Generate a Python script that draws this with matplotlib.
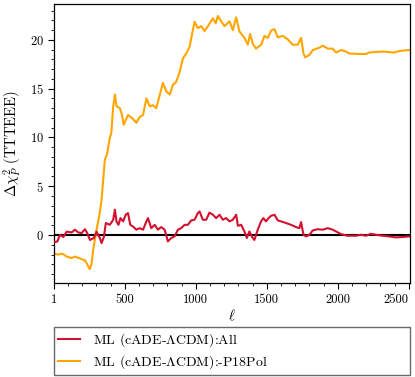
import matplotlib
matplotlib.use("Agg")
import matplotlib.pyplot as plt
from matplotlib.ticker import MultipleLocator, FixedLocator

plt.rcParams['font.family'] = 'serif'
plt.rcParams['font.serif'] = ['cmr10']
plt.rcParams['mathtext.fontset'] = 'cm'
plt.rcParams['axes.formatter.use_mathtext'] = True
plt.rcParams['axes.unicode_minus'] = False

# Orange series: ML (cADE-LCDM):-P18Pol
ell_pol = [1, 30, 60, 90, 124, 150, 184, 220, 253, 265, 277, 300, 320, 336, 359, 375,
           394, 405, 418, 430, 441, 465, 480, 492, 522, 557, 581, 604, 628, 652, 675,
           698, 721, 745, 768, 792, 816, 839, 862, 886, 909, 932, 956, 979, 991, 1014,
           1038, 1061, 1085, 1120, 1140, 1155, 1178, 1202, 1237, 1260, 1284, 1307, 1342,
           1366, 1382, 1401, 1424, 1460, 1483, 1507, 1530, 1554, 1577, 1612, 1647, 1682,
           1718, 1741, 1758, 1770, 1800, 1823, 1870, 1894, 1929, 1964, 1987, 2022, 2057,
           2081, 2150, 2198, 2220, 2315, 2397, 2432, 2498, 2508]
dchi_pol = [-1.9, -2.0, -1.9, -2.2, -2.35, -2.2, -2.4, -2.6, -3.5, -3.0, -1.5, 0.5, 2.0, 3.6, 7.7, 8.3,
            9.95, 10.5, 13.2, 14.4, 13.2, 13.0, 12.3, 11.3, 12.3, 11.9, 11.5, 12.1, 12.3, 14.0, 13.2,
            13.3, 13.0, 14.3, 15.6, 14.7, 14.4, 15.4, 15.7, 16.7, 18.1, 18.6, 19.3, 21.0, 21.85, 21.2,
            21.4, 20.9, 21.4, 22.2, 21.7, 22.45, 21.9, 21.4, 21.9, 21.0, 22.3, 20.85, 20.2,
            19.5, 20.6, 19.6, 19.1, 19.5, 20.4, 20.2, 20.95, 21.1, 20.25, 20.4, 20.05, 19.5,
            19.5, 20.2, 18.6, 18.2, 18.45, 18.95, 19.2, 19.4, 19.1, 19.1, 18.7, 18.95, 18.8,
            18.6, 18.55, 18.55, 18.7, 18.8, 18.7, 18.85, 18.95, 18.95]

# Red series: ML (cADE-LCDM):All
ell_all = [1, 25, 43, 67, 90, 125, 148, 172, 195, 219, 235, 254, 282, 300, 324, 336, 352, 366,
           394, 418, 430, 441, 455, 469, 488, 506, 522, 538, 557, 581, 604, 628, 652, 663, 686,
           710, 733, 756, 780, 803, 827, 850, 874, 897, 921, 944, 967, 991, 1014, 1026, 1049,
           1073, 1096, 1120, 1143, 1167, 1190, 1213, 1237, 1260, 1284, 1296, 1319, 1342, 1359,
           1377, 1396, 1412, 1436, 1459, 1475, 1494, 1512, 1530, 1554, 1577, 1601, 1635, 1670,
           1705, 1729, 1741, 1758, 1776, 1800, 1823, 1858, 1894, 1929, 1964, 1987, 2022, 2069,
           2127, 2163, 2198, 2233, 2268, 2315, 2362, 2409, 2456, 2498, 2508]
dchi_all = [-0.75, -0.65, 0.03, -0.2, 0.35, 0.27, 0.55, 0.27, 0.2, 0.6, 0.2, -0.5, -0.3, 0.35, -0.3, -0.82, -0.2, 1.23,
            1.05, 1.57, 2.6, 1.4, 1.05, 1.74, 1.4, 2.08, 2.25, 1.05, 0.88, 0.55, 0.71, 0.55, 1.4, 1.74, 0.71,
            1.05, 0.55, 0.82, 0.55, -0.65, -0.3, -0.14, 0.55, 0.71, 1.05, 1.05, 1.5, 1.57, 2.25, 2.42, 1.57,
            1.57, 2.3, 2.08, 1.74, 2.08, 1.57, 1.74, 1.4, 1.57, 2.08, 0.95, 1.05, 0.37, -0.3,
            0.37, -0.2, -0.5, 0.55, 1.4, 1.74, 1.4, 1.74, 1.98, 2.08, 1.5, 1.4, 1.23, 1.05,
            0.82, 0.71, 1.33, 0.03, -0.14, 0.03, 0.47, 0.6, 0.55, 0.71, 0.55, 0.37, 0.1, -0.07,
            -0.07, 0.03, -0.07, 0.13, 0.03, -0.07, -0.14, -0.24, -0.2, -0.14, -0.14]

xticks = [1, 500, 1000, 1500, 2000, 2500]
xticklabels = ['1', '500', '1000', '1500', '2000', '2500']

fig = plt.figure(figsize=(4.15, 3.77), dpi=100)
ax = fig.add_axes([54/415, 1-283/377, (410-54)/415, (283-4)/377])

ax.axhline(0, color='black', lw=1.5, zorder=1)
l1, = ax.plot(ell_all, dchi_all, color='#d3112f', lw=1.5,
              label=r'ML (cADE-$\Lambda$CDM):All', zorder=3)
l2, = ax.plot(ell_pol, dchi_pol, color='#ffa500', lw=1.5,
              label=r'ML (cADE-$\Lambda$CDM):-P18Pol', zorder=2)

ax.set_xlim(1, 2508)
ax.set_ylim(-4.91, 23.67)
ax.xaxis.set_major_locator(FixedLocator(xticks))
ax.set_xticklabels(xticklabels)
ax.xaxis.set_minor_locator(MultipleLocator(100))
ax.yaxis.set_major_locator(MultipleLocator(5))
ax.yaxis.set_minor_locator(MultipleLocator(1))
ax.tick_params(which='major', direction='out', length=4, width=0.8, labelsize=9)
ax.tick_params(which='minor', direction='out', length=2, width=0.6)
for s in ax.spines.values():
    s.set_linewidth(0.9)
xtl = ax.get_xticklabels()
xtl[-1].set_horizontalalignment('right')
xtl[-1].set_x(2500)

ax.set_xlabel(r'$\ell$', fontsize=10.5, labelpad=2)
ax.set_ylabel(r'$\Delta\chi^2_P$ (TTTEEE)', fontsize=10.5)
ax.yaxis.set_label_coords(-0.084, 0.5)

leg = fig.legend(handles=[l1, l2], loc='lower left',
                 bbox_to_anchor=(54/415, 1-375/377, (410-54)/415, (375-326)/377),
                 mode='expand', fontsize=10, frameon=True, fancybox=False,
                 edgecolor='#444444', handlelength=1.6, handletextpad=0.9,
                 borderaxespad=0.0, labelspacing=0.3, borderpad=0.3)
leg.get_frame().set_linewidth(1.0)

fig.savefig('out.png', dpi=100)
